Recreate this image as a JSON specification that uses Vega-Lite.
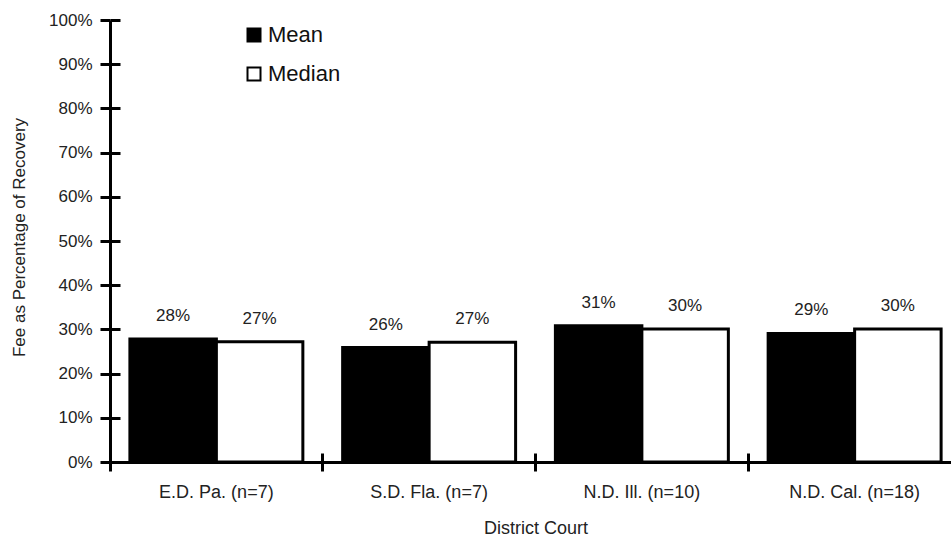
{
  "$schema": "https://vega.github.io/schema/vega-lite/v6.json",
  "width": 851,
  "height": 442,
  "autosize": "none",
  "padding": {"left": 110, "top": 20, "right": -10, "bottom": 77},
  "background": "white",
  "config": {
    "view": {"stroke": null},
    "font": "Liberation Sans",
    "axis": {"grid": false, "labelFont": "Liberation Sans", "titleFont": "Liberation Sans", "labelColor": "#222", "titleColor": "#222", "titleFontWeight": "normal"}
  },
  "data": {
    "values": [
      {"court": "E.D. Pa. (n=7)", "stat": "Mean", "value": 0.278},
      {"court": "E.D. Pa. (n=7)", "stat": "Median", "value": 0.272},
      {"court": "S.D. Fla. (n=7)", "stat": "Mean", "value": 0.259},
      {"court": "S.D. Fla. (n=7)", "stat": "Median", "value": 0.271},
      {"court": "N.D. Ill. (n=10)", "stat": "Mean", "value": 0.308},
      {"court": "N.D. Ill. (n=10)", "stat": "Median", "value": 0.301},
      {"court": "N.D. Cal. (n=18)", "stat": "Mean", "value": 0.291},
      {"court": "N.D. Cal. (n=18)", "stat": "Median", "value": 0.301}
    ]
  },
  "layer": [
    {
      "mark": {"type": "bar", "stroke": "black", "strokeWidth": 3},
      "encoding": {
        "x": {
          "field": "court", "type": "nominal",
          "sort": ["E.D. Pa. (n=7)", "S.D. Fla. (n=7)", "N.D. Ill. (n=10)", "N.D. Cal. (n=18)"],
          "scale": {"paddingInner": 0, "paddingOuter": 0},
          "axis": {
            "title": "District Court", "titleFontSize": 18, "titleY": 66, "titleBaseline": "middle",
            "labelAngle": 0, "labelFontSize": 18, "labelPadding": 12,
            "bandPosition": 0, "tickSize": 9, "tickWidth": 3, "tickColor": "black",
            "domainColor": "black", "domainWidth": 3
          }
        },
        "xOffset": {"field": "stat", "type": "nominal", "sort": ["Mean", "Median"], "scale": {"paddingInner": 0, "paddingOuter": 0.23}},
        "y": {
          "field": "value", "type": "quantitative",
          "scale": {"domain": [0, 1]},
          "axis": {
            "title": "Fee as Percentage of Recovery", "titleFontSize": 17, "titleX": -91, "titleY": 217, "titleBaseline": "middle",
            "format": ".0%", "values": [0, 0.1, 0.2, 0.3, 0.4, 0.5, 0.6, 0.7, 0.8, 0.9, 1],
            "labelFontSize": 17, "labelPadding": 8,
            "tickSize": 10, "tickWidth": 3, "tickColor": "black",
            "domainColor": "black", "domainWidth": 3
          }
        },
        "fill": {
          "field": "stat", "type": "nominal",
          "scale": {"domain": ["Mean", "Median"], "range": ["black", "white"]},
          "legend": {
            "title": null, "orient": "none", "legendX": 133, "legendY": 4,
            "symbolType": "square", "symbolSize": 169, "symbolStrokeColor": "black", "symbolStrokeWidth": 2,
            "labelFontSize": 22, "labelColor": "#111", "labelOffset": 3, "rowPadding": 17
          }
        }
      }
    },
    {
      "mark": {"type": "text", "dy": -18, "fontSize": 17, "color": "#222", "baseline": "alphabetic"},
      "encoding": {
        "x": {
          "field": "court", "type": "nominal",
          "sort": ["E.D. Pa. (n=7)", "S.D. Fla. (n=7)", "N.D. Ill. (n=10)", "N.D. Cal. (n=18)"],
          "axis": {"orient": "top", "offset": -442, "labels": false, "title": null, "domain": false, "bandPosition": 0, "tickSize": 9, "tickWidth": 3, "tickColor": "black"}
        },
        "xOffset": {"field": "stat", "type": "nominal", "sort": ["Mean", "Median"]},
        "y": {
          "field": "value", "type": "quantitative",
          "axis": {"orient": "right", "offset": -851, "labels": false, "title": null, "domain": false, "values": [0, 0.1, 0.2, 0.3, 0.4, 0.5, 0.6, 0.7, 0.8, 0.9, 1], "tickSize": 10, "tickWidth": 3, "tickColor": "black"}
        },
        "text": {"field": "value", "type": "quantitative", "format": ".0%"}
      }
    }
  ],
  "resolve": {"axis": {"x": "independent", "y": "independent"}}
}
